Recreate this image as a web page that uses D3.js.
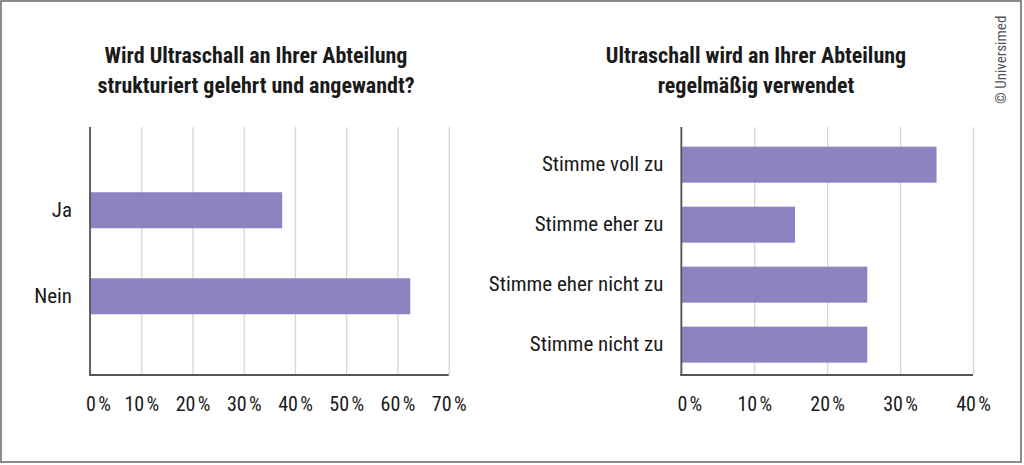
<!DOCTYPE html>
<html>
<head>
<meta charset="utf-8">
<script src="https://cdn.jsdelivr.net/npm/d3@7"></script>
<style>
  body { margin: 0; background: #fff; }
  svg { display: block; font-family: "Roboto Condensed", Roboto, sans-serif; }
</style>
</head>
<body>
<svg id="chart" width="1024" height="465"></svg>
<script>
// data
const leftTitle = ["Wird Ultraschall an Ihrer Abteilung", "strukturiert gelehrt und angewandt?"];
const leftCategories = ["Ja", "Nein"];
const leftValues = [37.5, 62.5];
const leftTicks = [0, 10, 20, 30, 40, 50, 60, 70];

const rightTitle = ["Ultraschall wird an Ihrer Abteilung", "regelmäßig verwendet"];
const rightCategories = ["Stimme voll zu", "Stimme eher zu", "Stimme eher nicht zu", "Stimme nicht zu"];
const rightValues = [35.0, 15.6, 25.5, 25.5];
const rightTicks = [0, 10, 20, 30, 40];

const svg = d3.select("#chart");

// frame
svg.append("rect")
  .attr("x", 1).attr("y", 1)
  .attr("width", 1020).attr("height", 461)
  .attr("fill", "none")
  .attr("stroke", "#666")
  .attr("stroke-width", 1.5);

const plotTop = 127, plotBottom = 375;

function drawPanel(opts) {
  const g = svg.append("g");

  const x = d3.scaleLinear()
    .domain([0, d3.max(opts.ticks)])
    .range([opts.x0, opts.x1]);

  const y = d3.scaleBand()
    .domain(opts.categories)
    .range([plotTop, plotBottom])
    .paddingInner(opts.padInner)
    .paddingOuter(opts.padOuter)
    .align(opts.align);

  // title, two lines
  g.append("text")
    .attr("x", opts.titleX)
    .attr("text-anchor", "middle")
    .attr("font-weight", "bold")
    .attr("font-size", 22)
    .attr("fill", "#1a1a1a")
    .selectAll("tspan")
    .data(opts.title)
    .join("tspan")
      .attr("x", opts.titleX)
      .attr("y", (d, i) => 63 + i * 29.5)
      .text(d => d);

  // x axis with gridlines
  const xAxis = g.append("g")
    .attr("transform", `translate(0,${plotBottom})`)
    .call(d3.axisBottom(x)
      .tickValues(opts.ticks)
      .tickSize(-(plotBottom - plotTop))
      .tickSizeOuter(0)
      .tickPadding(22)
      .tickFormat(d => d + "\u202f%"));

  xAxis.attr("font-family", null);
  xAxis.select(".domain").remove();
  xAxis.selectAll(".tick line")
    .attr("stroke", "#d6d6d6")
    .attr("stroke-width", 1.3);
  xAxis.selectAll(".tick text")
    .attr("font-size", 20)
    .attr("fill", "#1a1a1a")
    .attr("dx", d => d === 0 ? 8 : 0);

  // bars
  g.selectAll("rect.bar")
    .data(opts.values)
    .join("rect")
      .attr("class", "bar")
      .attr("x", x(0))
      .attr("y", (d, i) => y(opts.categories[i]))
      .attr("width", d => x(d) - x(0))
      .attr("height", y.bandwidth())
      .attr("fill", "#8c84c0");

  // y axis, labels only
  const yAxis = g.append("g")
    .attr("transform", `translate(${opts.x0},0)`)
    .call(d3.axisLeft(y).tickSize(0).tickPadding(18));
  yAxis.attr("font-family", null);
  yAxis.select(".domain").remove();
  yAxis.selectAll(".tick text")
    .attr("font-size", 21)
    .attr("fill", "#1a1a1a");

  // axis lines on top
  g.append("line")
    .attr("x1", x(0)).attr("x2", x(0))
    .attr("y1", plotTop).attr("y2", plotBottom + 1)
    .attr("stroke", "#555").attr("stroke-width", 1.8);
  g.append("line")
    .attr("x1", x(0) - 1).attr("x2", opts.x1)
    .attr("y1", plotBottom).attr("y2", plotBottom)
    .attr("stroke", "#555").attr("stroke-width", 1.8);
}

drawPanel({
  title: leftTitle,
  categories: leftCategories,
  values: leftValues,
  ticks: leftTicks,
  x0: 90, x1: 448.7,
  titleX: 256,
  padInner: 0.581, padOuter: 0.732, align: 0.518
});

drawPanel({
  title: rightTitle,
  categories: rightCategories,
  values: rightValues,
  ticks: rightTicks,
  x0: 681.3, x1: 973,
  titleX: 756,
  padInner: 0.4, padOuter: 0.267, align: 0.615
});

// copyright, rotated
svg.append("text")
  .attr("transform", "translate(1006,104) rotate(-90)")
  .attr("font-size", 15)
  .attr("fill", "#555")
  .text("\u00a9 Universimed");
</script>
</body>
</html>
